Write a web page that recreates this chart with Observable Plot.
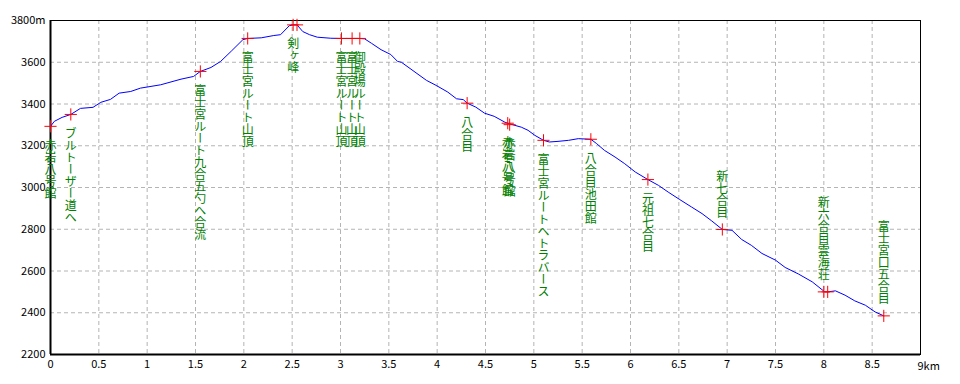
<!DOCTYPE html>
<html><head><meta charset="utf-8">
<script src="https://cdn.jsdelivr.net/npm/d3@7"></script>
<script src="https://cdn.jsdelivr.net/npm/@observablehq/plot@0.6"></script>
<style>body{margin:0;background:#fff}</style>
</head><body><div id="chart"></div>
<script>
// elevation profile (km, m)
const profileKm = [0,0.04,0.12,0.21,0.31,0.44,0.52,0.62,0.71,0.83,
  0.93,1.14,1.35,1.48,1.55,1.66,1.76,1.87,1.99,2.04,
  2.18,2.31,2.38,2.47,2.51,2.55,2.61,2.68,2.76,2.90,
  3.01,3.12,3.20,3.25,3.32,3.42,3.52,3.59,3.63,3.89,
  3.99,4.11,4.20,4.27,4.31,4.40,4.49,4.59,4.70,4.74,
  4.87,4.94,5.01,5.10,5.16,5.25,5.36,5.46,5.59,5.65,
  5.73,5.84,5.94,6.05,6.18,6.29,6.39,6.51,6.63,6.74,
  6.84,6.95,7.05,7.15,7.25,7.36,7.50,7.60,7.74,7.88,
  8.01,8.04,8.12,8.22,8.32,8.43,8.53,8.62];
const profileElev = [3293,3317,3336,3350,3379,3384,3408,3422,3452,3460,
  3476,3492,3519,3532,3556,3575,3604,3653,3708,3714,
  3717,3728,3732,3775,3779,3779,3747,3732,3720,3715,
  3714,3714,3714,3712,3691,3660,3637,3604,3600,3513,
  3489,3457,3425,3421,3404,3385,3356,3341,3313,3306,
  3289,3274,3250,3226,3218,3221,3226,3234,3231,3210,
  3178,3146,3114,3074,3038,3010,2978,2942,2907,2875,
  2840,2799,2795,2751,2723,2684,2652,2617,2585,2548,
  2500,2500,2505,2484,2457,2436,2404,2385];

// waypoints
const wpKm = [0,0.21,1.55,2.04,2.51,2.55,3.01,3.12,3.20,4.31,4.73,4.75,5.10,5.59,6.18,6.95,8.00,8.04,8.62];
const wpElev = [3293,3350,3556,3714,3779,3779,3714,3714,3714,3404,3308,3301,3226,3231,3038,2799,2500,2500,2385];
const wpName = ["赤岩八号館","ブルトーザー道へ","富士宮ルート九合五勺へ合流","富士宮ルート山頂","剣ヶ峰","",
  "富士宮ルート山頂","富士宮ルート山頂","御殿場ルート山頂","八合目","赤岩八号館","赤岩八号館",
  "富士宮ルートへトラバース","八合目池田館","元祖七合目","新七合目","新六合目雲海荘","","富士宮口五合目"];
const namesAbove = ["新七合目","新六合目雲海荘","富士宮口五合目"];

// ticks
const xTicks = [0,0.5,1,1.5,2,2.5,3,3.5,4,4.5,5,5.5,6,6.5,7,7.5,8,8.5];
const xEnd = 9, xEndLabel = "9km";
const yTicks = [2200,2400,2600,2800,3000,3200,3400,3600,3800];
const yTopLabel = "3800m";

const profile = profileKm.map((x, i) => ({x, y: profileElev[i]}));
const wps = wpKm.map((x, i) => ({x, y: wpElev[i], name: wpName[i]}));
const below = wps.filter(d => d.name && !namesAbove.includes(d.name));
const above = wps.filter(d => d.name && namesAbove.includes(d.name));

const CH = 12; // character pitch of vertical labels
const labelStyle = {x: "x", y: "y", text: "name", fill: "#008000", textAnchor: "start", fontSize: CH,
  fontFamily: "'Noto Sans CJK JP', sans-serif"};
const grid = {stroke: "#b4b4b4", strokeOpacity: 1, strokeDasharray: "4,3"};
const chart = Plot.plot({
  width: 960, height: 384,
  marginLeft: 50, marginRight: 40, marginTop: 20, marginBottom: 30,
  style: {fontFamily: "'Noto Sans CJK JP', sans-serif", fontSize: "11px", background: "#fff", color: "#000"},
  x: {domain: [0, 9], label: null},
  y: {domain: [2200, 3800], label: null},
  marks: [
    Plot.gridX(xTicks.filter(d => d > 0), grid),
    Plot.gridY(yTicks.filter(d => d > 2200 && d < 3800), grid),
    Plot.frame({stroke: "#000", strokeWidth: 1}),
    Plot.ruleX([0], {stroke: "#000", strokeWidth: 2}),
    Plot.ruleY([2200], {stroke: "#000", strokeWidth: 2}),
    Plot.axisX(xTicks, {tickSize: 0, tickPadding: 6, label: null, tickFormat: d => String(d)}),
    Plot.text([xEnd], {x: d => d, y: () => 2200, text: () => xEndLabel, textAnchor: "start", dx: -3, dy: 12, fill: "#000"}),
    Plot.axisY(yTicks, {tickSize: 0, tickPadding: 5, label: null, tickFormat: d => d === 3800 ? yTopLabel : String(d)}),
    Plot.line(profile, {x: "x", y: "y", stroke: "#0000ff", strokeWidth: 1}),
    Plot.dot(wps, {x: "x", y: "y", symbol: "plus", r: 4, stroke: "#ff0000", strokeWidth: 1}),
    Plot.text(below, {...labelStyle, dy: 9}),
    ...above.map(d => Plot.text([d], {...labelStyle, dy: -15 - CH * [...d.name].length}))
  ]
});
document.getElementById("chart").appendChild(chart);
d3.select(chart).selectAll('g[fill="#008000"] text')
  .attr("dy", null)
  .style("writing-mode", "vertical-rl")
  .style("text-orientation", "upright");
</script>
</body></html>
